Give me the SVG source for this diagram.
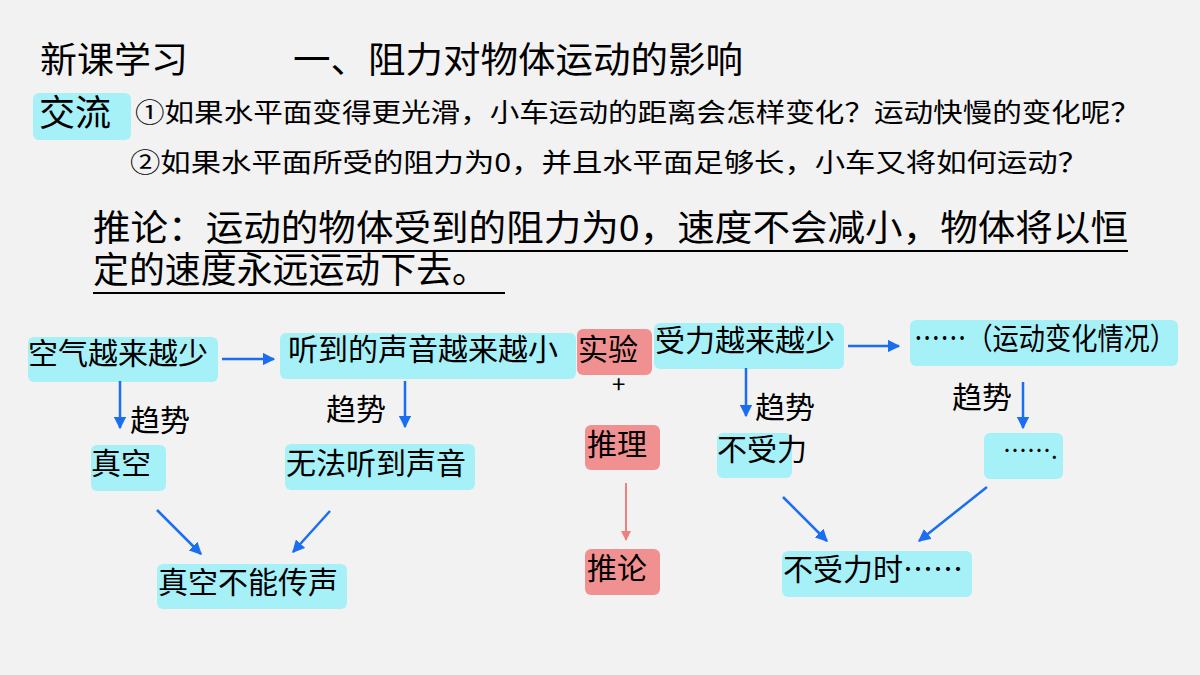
<svg xmlns="http://www.w3.org/2000/svg" width="1200" height="675" viewBox="0 0 1200 675">
<style>
text{font-family:"Noto Sans CJK SC","Noto Sans",sans-serif;fill:#000}
.b{fill:#a6f0f8}
.r{fill:#f09090}
.t{font-size:30px}
.a{stroke:#1a6ef0;stroke-width:2.5;fill:none;marker-end:url(#m)}
</style>
<defs>
<marker id="m" viewBox="0 0 10 10" refX="9" refY="5" markerWidth="5" markerHeight="5" orient="auto"><path d="M0,0L10,5L0,10z" fill="#1a6ef0"/></marker>
<marker id="mr" viewBox="0 0 10 10" refX="9" refY="5" markerWidth="5" markerHeight="5" orient="auto"><path d="M0,0L10,5L0,10z" fill="#f07f80"/></marker>
</defs>
<rect width="1200" height="675" fill="#f2f2f2"/>
<g id="header">
<text x="40" y="73" font-size="36" textLength="148" lengthAdjust="spacingAndGlyphs">新课学习</text>
<text x="293" y="73" font-size="36" textLength="450" lengthAdjust="spacingAndGlyphs">一、阻力对物体运动的影响</text>
<rect x="33" y="93" width="98" height="47" rx="6" class="b"/>
<text x="39" y="126" font-size="36">交流</text>
<text x="135" y="122" font-size="26" textLength="1005" lengthAdjust="spacingAndGlyphs">①如果水平面变得更光滑，小车运动的距离会怎样变化？运动快慢的变化呢？</text>
<text x="130" y="172" font-size="26" textLength="958" lengthAdjust="spacingAndGlyphs">②如果水平面所受的阻力为0，并且水平面足够长，小车又将如何运动？</text>
<text x="93" y="241" font-size="36" textLength="1035" lengthAdjust="spacingAndGlyphs">推论：运动的物体受到的阻力为0，速度不会减小，物体将以恒</text>
<line x1="205" y1="251" x2="1128" y2="251" stroke="#000" stroke-width="2"/>
<text x="93" y="283" font-size="36" textLength="395" lengthAdjust="spacingAndGlyphs">定的速度永远运动下去。</text>
<line x1="93" y1="293" x2="505" y2="293" stroke="#000" stroke-width="2"/>
</g>
<g id="n1"><rect x="28" y="337" width="190" height="45" rx="6" class="b"/><text x="28" y="364" class="t">空气越来越少</text></g>
<g id="n2"><rect x="280" y="333" width="296" height="46" rx="6" class="b"/><text x="288" y="360" class="t">听到的声音越来越小</text></g>
<g id="n3"><rect x="91" y="445" width="75" height="46" rx="6" class="b"/><text x="91" y="474" class="t">真空</text></g>
<g id="n4"><rect x="285" y="444" width="190" height="46" rx="6" class="b"/><text x="286" y="474" class="t">无法听到声音</text></g>
<g id="n5"><rect x="157" y="564" width="190" height="45" rx="6" class="b"/><text x="158" y="593" class="t">真空不能传声</text></g>
<g id="n6"><rect x="577" y="329" width="75" height="46" rx="6" class="r"/><text x="578" y="360" class="t">实验</text></g>
<g id="plus"><text x="612" y="393" font-size="24">+</text></g>
<g id="n7"><rect x="585" y="425" width="75" height="45" rx="6" class="r"/><text x="587" y="455" class="t">推理</text></g>
<g id="n8"><rect x="585" y="549" width="75" height="46" rx="6" class="r"/><text x="587" y="579" class="t">推论</text></g>
<g id="n9"><rect x="654" y="323" width="190" height="46" rx="6" class="b"/><text x="655" y="351" class="t">受力越来越少</text></g>
<g id="n10"><rect x="910" y="320" width="268" height="46" rx="6" class="b"/><text x="914" y="349" class="t" textLength="262" lengthAdjust="spacingAndGlyphs">……（运动变化情况）</text></g>
<g id="n11"><rect x="717" y="433" width="75" height="45" rx="6" class="b"/><text x="717" y="460" class="t">不受力</text></g>
<g id="n12"><rect x="984" y="433" width="79" height="46" rx="6" class="b"/><text x="1003" y="459" font-size="24">…….</text></g>
<g id="n13"><rect x="782" y="551" width="190" height="46" rx="6" class="b"/><text x="783" y="580" class="t">不受力时……</text></g>
<g id="labels">
<text x="130" y="431" font-size="30">趋势</text>
<text x="326" y="420" font-size="30">趋势</text>
<text x="755" y="418" font-size="30">趋势</text>
<text x="952" y="408" font-size="30">趋势</text>
</g>
<g id="connectors">
<path class="a" d="M222,359H274"/>
<path class="a" d="M120,381V428"/>
<path class="a" d="M405,381V427"/>
<path class="a" d="M157,510L201,554"/>
<path class="a" d="M330,511L293,552"/>
<path class="a" d="M848,346H899"/>
<path class="a" d="M746,368V416"/>
<path class="a" d="M1023,382V428"/>
<path class="a" d="M783,497L827,541"/>
<path class="a" d="M987,487L919,541"/>
<path d="M626,483V540" stroke="#f07f80" stroke-width="2" marker-end="url(#mr)"/>
</g>
</svg>
